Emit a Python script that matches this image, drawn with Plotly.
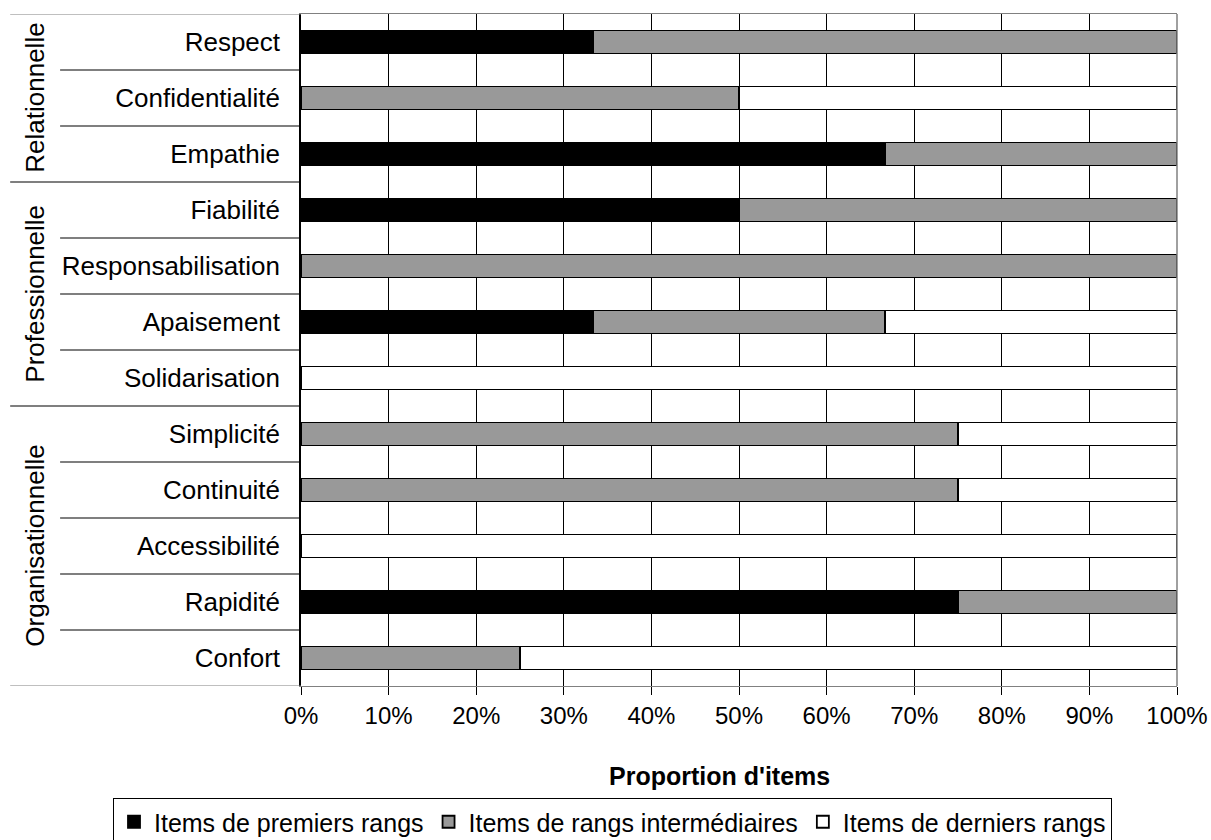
import plotly.graph_objects as go

categories = ["Respect", "Confidentialité", "Empathie", "Fiabilité", "Responsabilisation",
              "Apaisement", "Solidarisation", "Simplicité", "Continuité", "Accessibilité",
              "Rapidité", "Confort"]
groups = ["Relationnelle", "Professionnelle", "Organisationnelle"]
group_sizes = [3, 4, 5]

premiers = [33.33, 0, 66.67, 50, 0, 33.33, 0, 0, 0, 0, 75, 0]
intermediaires = [66.67, 50, 33.33, 50, 100, 33.33, 0, 75, 75, 0, 25, 25]
derniers = [0, 50, 0, 0, 0, 33.34, 100, 25, 25, 100, 0, 75]

series_names = ["Items de premiers rangs", "Items de rangs intermédiaires", "Items de derniers rangs"]
series_colors = ["#000000", "#999999", "#ffffff"]

x_title = "Proportion d'items"

FONT = "Liberation Sans, Arial, sans-serif"
W, H = 1211, 862   # page is taller than the 840 window: legend box runs off the bottom as in the reference
PL, PR, PT, PB = 301, 1177, 14, 686  # plot area in pixels

fig = go.Figure()
for name, vals, col in zip(series_names, [premiers, intermediaires, derniers], series_colors):
    fig.add_trace(go.Bar(
        y=categories, x=vals, name=name, orientation="h",
        marker=dict(color=col, line=dict(color="#000000", width=1.8)),
    ))

# left-side separators
shapes = []
n = len(categories)
group_bounds = [-0.5]
acc = -0.5
for s in group_sizes:
    acc += s
    group_bounds.append(acc)
for b in [i - 0.5 for i in range(n + 1)]:
    is_group = any(abs(b - g) < 1e-9 for g in group_bounds)
    edge = abs(b + 0.5) < 1e-9 or abs(b - (n - 0.5)) < 1e-9
    shapes.append(dict(
        type="line", xref="x domain", yref="y",
        x0=-0.332 if is_group else -0.275, x1=0, y0=b, y1=b,
        line=dict(color="#808080" if edge else "#000000", width=1.2),
        layer="above",
    ))
# right border (gray)
shapes.append(dict(type="line", xref="x domain", yref="y domain", x0=1, x1=1, y0=0, y1=1,
                   line=dict(color="#808080", width=1.5), layer="above"))

annotations = []
start = 0
for g, s in zip(groups, group_sizes):
    center = start + (s - 1) / 2
    annotations.append(dict(
        text=g, xref="x domain", yref="y", x=-0.304, y=center, textangle=-90,
        showarrow=False, font=dict(family=FONT, size=26, color="#000000"),
        xanchor="center", yanchor="middle",
    ))
    start += s
annotations.append(dict(
    text="<b>" + x_title + "</b>", xref="x domain", yref="y domain", x=0.478, y=-0.134,
    showarrow=False, font=dict(family=FONT, size=25, color="#000000"),
    xanchor="center", yanchor="middle",
))

fig.update_layout(
    barmode="stack",
    bargap=0.59,
    width=W, height=H,
    margin=dict(l=0, r=0, t=0, b=0),
    plot_bgcolor="#ffffff", paper_bgcolor="#ffffff",
    font=dict(family=FONT, size=24, color="#000000"),
    shapes=shapes,
    annotations=annotations,
    legend=dict(
        orientation="h", traceorder="normal",
        xref="paper", x=113 / W, xanchor="left",
        yref="paper", y=1 - 798 / H, yanchor="top",
        bordercolor="#000000", borderwidth=1,
        font=dict(family=FONT, size=25, color="#000000"),
        itemwidth=30,
    ),
    xaxis=dict(
        domain=[PL / W, PR / W],
        range=[0, 100], dtick=10, ticksuffix="%",
        showgrid=True, gridcolor="#000000", gridwidth=1,
        showline=True, linecolor="#808080", linewidth=1, mirror=True,
        ticks="outside", ticklen=8, tickcolor="#000000",
        tickfont=dict(family=FONT, size=24),
        zeroline=False, automargin=False,
    ),
    yaxis=dict(
        domain=[1 - PB / H, 1 - PT / H],
        categoryorder="array", categoryarray=categories,
        range=[n - 0.5, -0.5],
        showline=True, linecolor="#000000", linewidth=1.5,
        ticks="", showgrid=False,
        tickfont=dict(family=FONT, size=26),
        ticklabelstandoff=14, automargin=False,
    ),
    showlegend=True,
)

fig.write_html("out.html", config={"displayModeBar": False},
               post_script="document.body.style.margin='0';document.body.style.overflow='hidden';")
